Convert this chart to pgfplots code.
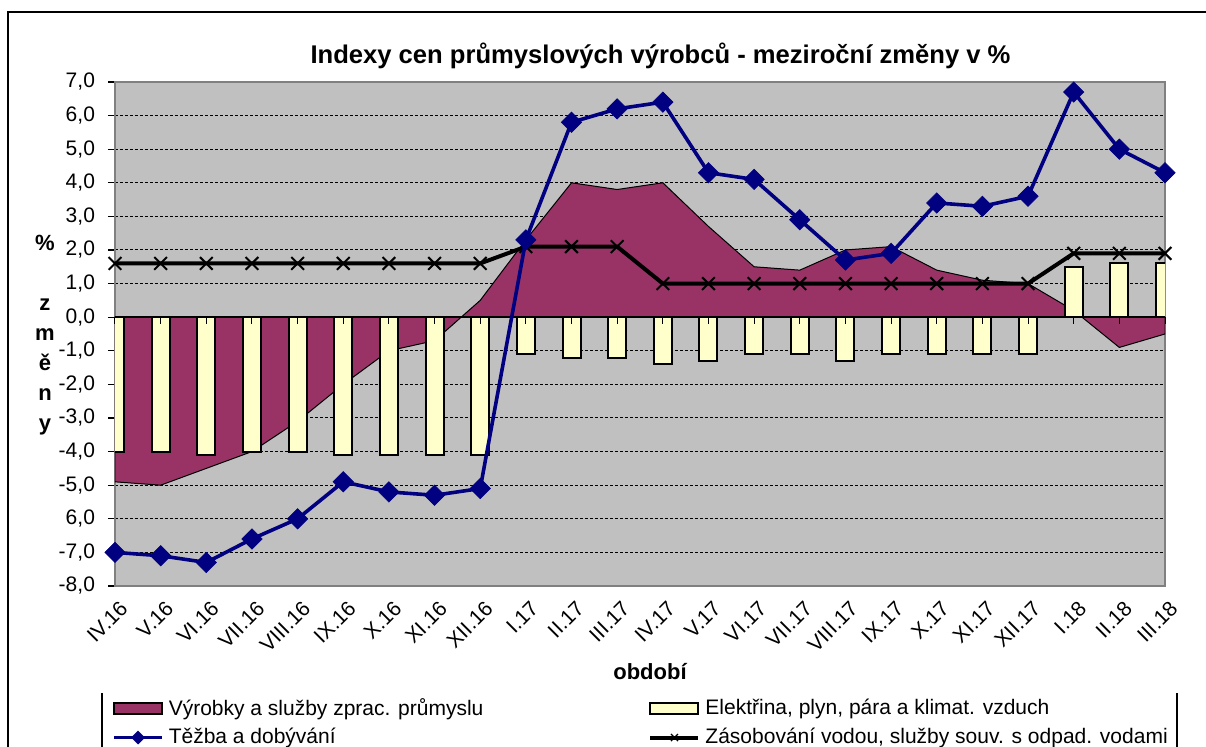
\documentclass[border=0pt]{standalone}
\usepackage{pgfplots}
\pgfplotsset{compat=1.18}
\usepackage{pgfplotstable}
\usepackage{fontspec}
\setmainfont{Liberation Sans}
\definecolor{maroonx}{HTML}{993366}
\definecolor{bary}{HTML}{FFFFCC}
\definecolor{navyx}{HTML}{000080}
\definecolor{bggray}{HTML}{C0C0C0}
\pgfplotsset{
  mylinelegend/.style={legend image code/.code={\draw[mark repeat=2,mark phase=2,##1] plot coordinates {(0pt,0pt) (12pt,0pt) (24pt,0pt)};}},
  myarealegend/.style={legend image code/.code={\draw[line width=1pt,##1] (0pt,-2.8pt) rectangle (24pt,2.8pt);}},
}

\pgfplotstableread{
x vyr ele tez zas
0 -4.9 -4.0 -7.0 1.6
1 -5.0 -4.0 -7.1 1.6
2 -4.5 -4.1 -7.3 1.6
3 -4.0 -4.0 -6.6 1.6
4 -3.1 -4.0 -6.0 1.6
5 -2.0 -4.1 -4.9 1.6
6 -1.0 -4.1 -5.2 1.6
7 -0.7 -4.1 -5.3 1.6
8 0.5 -4.1 -5.1 1.6
9 2.3 -1.1 2.3 2.1
10 4.0 -1.2 5.8 2.1
11 3.8 -1.2 6.2 2.1
12 4.0 -1.4 6.4 1.0
13 2.7 -1.3 4.3 1.0
14 1.5 -1.1 4.1 1.0
15 1.4 -1.1 2.9 1.0
16 2.0 -1.3 1.7 1.0
17 2.1 -1.1 1.9 1.0
18 1.4 -1.1 3.4 1.0
19 1.1 -1.1 3.3 1.0
20 1.0 -1.1 3.6 1.0
21 0.2 1.5 6.7 1.9
22 -0.9 1.6 5.0 1.9
23 -0.5 1.6 4.3 1.9
}\data

\begin{document}
\begin{tikzpicture}
\useasboundingbox (0,0) rectangle (603pt,373.5pt);
\clip (0,0) rectangle (603pt,373.5pt);
\draw[line width=0.8pt] (4pt,-10pt) rectangle (620pt,367.5pt);
\node[anchor=base, font=\fontsize{12.8}{15}\selectfont\bfseries] at (330.25pt,341.5pt)
  {Indexy cen průmyslových výrobců - meziroční změny v \%};
\node[align=center, font=\fontsize{11}{15}\selectfont\bfseries] at (22.5pt,206pt)
  {\%\\ \mbox{}\\ z\\ m\\ ě\\ n\\ y};
\node[font=\fontsize{11}{13}\selectfont\bfseries] at (325pt,37.5pt) {období};
\draw[line width=0.6pt] (51pt,-2pt) -- (51pt,27pt);
\draw[line width=0.6pt] (588.5pt,-2pt) -- (588.5pt,27pt);
\begin{axis}[
  at={(57.5pt,80.5pt)}, anchor=south west,
  scale only axis, width=525pt, height=252pt,
  xmin=0, xmax=23, ymin=-8, ymax=7,
  axis background/.style={fill=bggray},
  axis line style={draw=gray, line width=0.8pt},
  xtick={0,...,23},
  xticklabels={IV.16,V.16,VI.16,VII.16,VIII.16,IX.16,X.16,XI.16,XII.16,I.17,II.17,III.17,IV.17,V.17,VI.17,VII.17,VIII.17,IX.17,X.17,XI.17,XII.17,I.18,II.18,III.18},
  xtick style={draw=none},
  x tick label style={rotate=45, anchor=north east, font=\fontsize{10.5}{12}\selectfont, inner sep=1pt, yshift=-2.5pt},
  ytick={-8,...,7},
  yticklabels={{-8,0},{-7,0},{6,0},{-5,0},{-4,0},{-3,0},{-2,0},{-1,0},{0,0},{1,0},{2,0},{3,0},{4,0},{5,0},{6,0},{7,0}},
  ytick pos=left,
  y tick style={black, line width=0.6pt},
  tick align=outside, major tick length=3.5pt,
  y tick label style={font=\fontsize{10.5}{12}\selectfont, xshift=-3pt},
  ymajorgrids, major grid style={black, dash pattern=on 1.5pt off 1pt, line width=0.5pt},
  clip mode=individual,
  legend columns=2,
  legend cell align=left,
  legend style={at={(axis description cs:-0.0029,-0.2163)}, anchor=north west,
    draw=none, fill=none, inner sep=0pt, font=\fontsize{10.5}{12}\selectfont,
    row sep=2pt, nodes={inner xsep=2.5pt, inner ysep=1.5pt},
    /tikz/every even column/.append style={column sep=80pt}},
]
\addplot[fill=maroonx, draw=black, line width=0.5pt, forget plot] table[x=x,y=vyr]{\data} \closedcycle;
\addplot[ybar, bar width=9pt, bar shift=0pt, fill=bary, draw=black, line width=1pt, forget plot] table[x=x,y=ele]{\data};
\draw[black, line width=0.8pt] (axis cs:0,0) -- (axis cs:23,0);
\pgfplotsinvokeforeach{0,...,23}{\draw[black,line width=0.5pt] (axis cs:#1,0) -- ++(0pt,-3.5pt);}
\addplot[black, line width=2pt, mark=x, mark size=4.5pt, mark options={line width=1pt, solid}, forget plot] table[x=x,y=zas]{\data};
\addplot[navyx, line width=1.8pt, mark=square*, mark size=3.6pt, mark options={rotate=45, fill=navyx, draw=navyx, line width=0.3pt, solid}, forget plot] table[x=x,y=tez]{\data};
\addlegendimage{myarealegend, fill=maroonx, draw=black}
\addlegendentry{Výrobky a služby zprac. průmyslu}
\addlegendimage{myarealegend, fill=bary, draw=black}
\addlegendentry{Elektřina, plyn, pára a klimat. vzduch}
\addlegendimage{mylinelegend, navyx, line width=1.7pt, mark=square*, mark size=1.6pt, mark options={rotate=45}}
\addlegendentry{Těžba a dobývání}
\addlegendimage{mylinelegend, black, line width=2pt, mark=x, mark size=2.5pt, mark options={line width=0.6pt}}
\addlegendentry{Zásobování vodou, služby souv. s odpad. vodami}
\end{axis}
\end{tikzpicture}
\end{document}
